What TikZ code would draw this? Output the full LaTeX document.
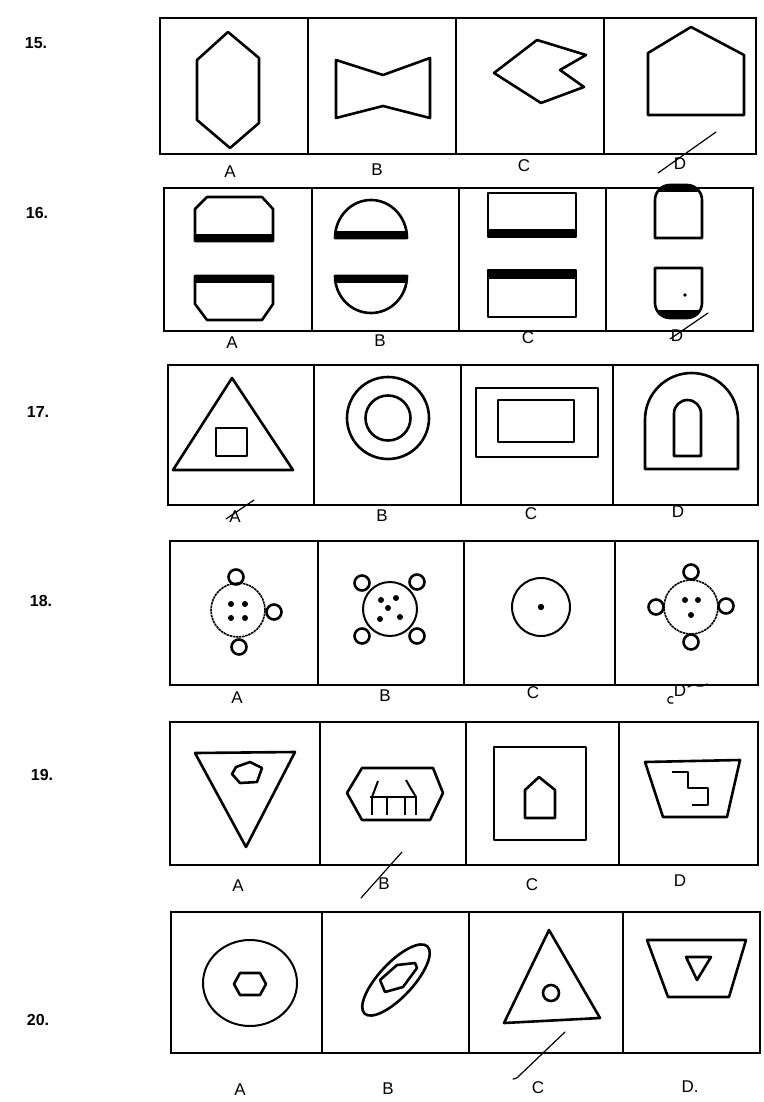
\documentclass[tikz,border=0pt]{standalone}
\usepackage{fontspec}
\newfontfamily\lsans{Liberation Sans}
\begin{document}
\begin{tikzpicture}[x=1pt,y=-1pt,
  frame/.style={line width=2pt},
  shp/.style={line width=2.6pt, line join=round},
  thinshp/.style={line width=2pt, line join=round},
  dotc/.style={line width=1.6pt, dash pattern=on 2.5pt off 0.7pt},
  lab/.style={font=\lsans\fontsize{17}{20}\selectfont, inner sep=0pt},
  qnum/.style={font=\lsans\bfseries\fontsize{16}{19}\selectfont, inner sep=0pt},
  hand/.style={line width=1.2pt, line cap=round}]
\useasboundingbox (0,0) rectangle (763,1102);
\fill[white] (0,0) rectangle (763,1102);

% question numbers
\node[qnum] (q15) at (36,43) {15.};
\node[qnum] (q16) at (37,213) {16.};
\node[qnum] (q17) at (38,412) {17.};
\node[qnum] (q18) at (41,601) {18.};
\node[qnum] (q19) at (42,775) {19.};
\node[qnum] (q20) at (38,1020) {20.};

% ---------------- Row 15 ----------------
\draw[frame] (160,18) rectangle (756,154);
\draw[frame] (308,18) -- (308,154) (456,18) -- (456,154) (604,18) -- (604,154);
\draw[shp] (228,32) -- (259,58) -- (259,123) -- (230,148) -- (197,120) -- (197,60) -- cycle;
\draw[shp] (336,60) -- (383,75) -- (430,58) -- (430,118) -- (383,106) -- (336,118) -- cycle;
\draw[shp] (537,40) -- (586,55) -- (560,70) -- (584,87) -- (541,103) -- (494,73) -- cycle;
\draw[shp] (691,27) -- (744,55) -- (744,115) -- (648,115) -- (648,53) -- cycle;
\node[lab] (l15a) at (230,172) {A};
\node[lab] (l15b) at (377,170) {B};
\node[lab] (l15c) at (524,166) {C};
\node[lab] (l15d) at (680,164) {D};
\draw[hand] (658,173) -- (716,132);

% ---------------- Row 16 ----------------
\draw[frame] (164,188) rectangle (753,331);
\draw[frame] (312,188) -- (312,331) (459,188) -- (459,331) (606,188) -- (606,331);
% A
\draw[shp] (207,197) -- (262,197) -- (273,209) -- (273,241) -- (195,241) -- (195,209) -- cycle;
\fill (195,234) rectangle (273,241);
\draw[shp] (195,276) -- (273,276) -- (273,304) -- (262,320) -- (207,320) -- (195,304) -- cycle;
\fill (195,276) rectangle (273,283);
% B
\draw[shp] (335,238) arc[start angle=180, end angle=0, x radius=36pt, y radius=38pt] -- cycle;
\fill (336,231) rectangle (406,238);
\draw[shp] (335,276) arc[start angle=180, end angle=360, x radius=36pt, y radius=37pt] -- cycle;
\fill (336,276) rectangle (406,283);
% C
\draw[shp] (488,193) rectangle (576,237);
\fill (488,229) rectangle (576,237);
\draw[shp] (488,270) rectangle (576,317);
\fill (488,270) rectangle (576,279);
% D
\begin{scope}
\clip (655,238) -- (655,200) arc[start angle=180, end angle=90, radius=15pt] -- (687,185) arc[start angle=90, end angle=0, radius=15pt] -- (702,238) -- cycle;
\fill (650,180) rectangle (707,192);
\end{scope}
\draw[shp] (655,238) -- (655,200) arc[start angle=180, end angle=90, radius=15pt] -- (687,185) arc[start angle=90, end angle=0, radius=15pt] -- (702,238) -- cycle;
\begin{scope}
\clip (655,268) -- (702,268) -- (702,303) arc[start angle=0, end angle=-90, radius=15pt] -- (670,318) arc[start angle=270, end angle=180, radius=15pt] -- cycle;
\fill (650,310) rectangle (707,322);
\end{scope}
\draw[shp] (655,268) -- (702,268) -- (702,303) arc[start angle=0, end angle=-90, radius=15pt] -- (670,318) arc[start angle=270, end angle=180, radius=15pt] -- cycle;
\fill (685,295) circle[radius=1.8pt];
\node[lab] (l16a) at (232,343) {A};
\node[lab] (l16b) at (380,341) {B};
\node[lab] (l16c) at (528,338) {C};
\node[lab] (l16d) at (677,336) {D};
\draw[hand] (670,339) -- (708,313);

% ---------------- Row 17 ----------------
\draw[frame] (168,365) rectangle (758,505);
\draw[frame] (314,365) -- (314,505) (461,365) -- (461,505) (613,365) -- (613,505);
\draw[shp] (232,378) -- (293,470) -- (173,470) -- cycle;
\draw[shp] (216,428) rectangle (247,456);
\draw[shp] (388,418) circle[radius=41pt];
\draw[shp] (388,418) circle[radius=22.5pt];
\draw[shp] (476,388) rectangle (598,457);
\draw[shp] (498,400) rectangle (574,442);
\draw[shp] (645,469) -- (645,419.5) arc[start angle=180, end angle=0, radius=46.5pt] -- (738,469) -- cycle;
\draw[shp] (674,456) -- (674,413.5) arc[start angle=180, end angle=0, radius=13.5pt] -- (701,456) -- cycle;
\node[lab] (l17a) at (235,517) {A};
\node[lab] (l17b) at (382,516) {B};
\node[lab] (l17c) at (531,514) {C};
\node[lab] (l17d) at (678,512) {D};
\draw[hand] (226,519) -- (254,500);

% ---------------- Row 18 ----------------
\draw[frame] (170,541) rectangle (758,685);
\draw[frame] (318,541) -- (318,685) (464,541) -- (464,685) (615,541) -- (615,685);
% A
\draw[dotc] (238,610) circle[radius=27pt];
\draw[shp] (236,577) circle[radius=7.5pt];
\draw[shp] (274,612) circle[radius=7.5pt];
\draw[shp] (239,647) circle[radius=7.5pt];
\foreach \p in {(231,604),(245,604),(231,618),(245,618)} \fill \p circle[radius=3pt];
% B
\draw[thinshp] (390,609) circle[radius=27pt];
\draw[shp] (362,583) circle[radius=7.5pt];
\draw[shp] (417,582) circle[radius=7.5pt];
\draw[shp] (362,636) circle[radius=7.5pt];
\draw[shp] (417,636) circle[radius=7.5pt];
\foreach \p in {(381,600),(396,598),(388,608),(380,619),(400,617)} \fill \p circle[radius=3pt];
% C
\draw[thinshp] (541,607) circle[radius=29pt];
\fill (541,607) circle[radius=3.2pt];
% D
\draw[dotc] (691,607) circle[radius=27pt];
\draw[shp] (691,572) circle[radius=7.5pt];
\draw[shp] (656,607) circle[radius=7.5pt];
\draw[shp] (726,606) circle[radius=7.5pt];
\draw[shp] (691,642) circle[radius=7.5pt];
\foreach \p in {(685,600),(698,600),(691,615)} \fill \p circle[radius=3pt];
\node[lab] (l18a) at (237,698) {A};
\node[lab] (l18b) at (385,696) {B};
\node[lab] (l18c) at (533,693) {C};
\node[lab] (l18d) at (680,691) {D};
\draw[hand] (673,697) arc[start angle=60, end angle=300, radius=3.5pt];
\draw[hand] (688,687) to[out=30,in=160] (698,686) to[out=-20,in=200] (707,684);

% ---------------- Row 19 ----------------
\draw[frame] (170,722) rectangle (758,865);
\draw[frame] (320,722) -- (320,865) (466,722) -- (466,865) (619,722) -- (619,865);
% A
\draw[shp] (195,753) -- (295,752) -- (246,847) -- cycle;
\draw[shp] (236,767) -- (250,762) -- (262,768) -- (257,782) -- (240,783) -- (232,774) -- cycle;
% B
\draw[shp] (347,793) -- (362,768) -- (433,768) -- (443,793) -- (430,820) -- (362,820) -- cycle;
\draw[thinshp] (370,797) -- (417,797);
\draw[thinshp] (372,797) -- (372,815) (387,797) -- (387,815) (405,797) -- (405,815) (416,797) -- (416,815);
\draw[thinshp] (378,781) -- (372,797);
\draw[thinshp] (406,780) -- (410,787) -- (416,797);
% C
\draw[shp] (494,747) rectangle (586,840);
\draw[shp] (539,777) -- (555,790) -- (555,818) -- (525,818) -- (525,790) -- cycle;
% D
\draw[shp] (645,762) -- (740,760) -- (727,817) -- (663,817) -- cycle;
\draw[thinshp] (672,772) -- (688,772) -- (688,788) -- (708,788) -- (708,805) -- (692,805);
\node[lab] (l19a) at (238,886) {A};
\node[lab] (l19b) at (384,884) {B};
\node[lab] (l19c) at (532,885) {C};
\node[lab] (l19d) at (680,881) {D};
\draw[hand] (361,898) -- (402,852);

% ---------------- Row 20 ----------------
\draw[frame] (171,912) rectangle (760,1053);
\draw[frame] (322,912) -- (322,1053) (469,912) -- (469,1053) (623,912) -- (623,1053);
% A
\draw[thinshp] (250,983) ellipse[x radius=47pt, y radius=43pt];
\draw[shp] (240,973) -- (260,973) -- (266,984) -- (260,995) -- (240,995) -- (234,984) -- cycle;
% B
\draw[shp, rotate around={47:(396,980)}] (396,980) ellipse[x radius=46pt, y radius=17pt];
\draw[shp] (380,980) -- (397,965) -- (415,963) -- (417,968) -- (403,987) -- (385,992) -- cycle;
% C
\draw[shp] (549,930) -- (600,1018) -- (504,1023) -- cycle;
\draw[shp] (551,993) circle[radius=8pt];
% D
\draw[shp] (647,940) -- (746,940) -- (729,997) -- (668,997) -- cycle;
\draw[shp] (686,957) -- (711,957) -- (697,980) -- cycle;
\node[lab] (l20a) at (240,1090) {A};
\node[lab] (l20b) at (388,1089) {B};
\node[lab] (l20c) at (538,1088) {C};
\node[lab] (l20d) at (690,1087) {D.};
\draw[hand] (513,1079) to[out=0,in=225] (521,1074) -- (565,1032);
\end{tikzpicture}
\end{document}
